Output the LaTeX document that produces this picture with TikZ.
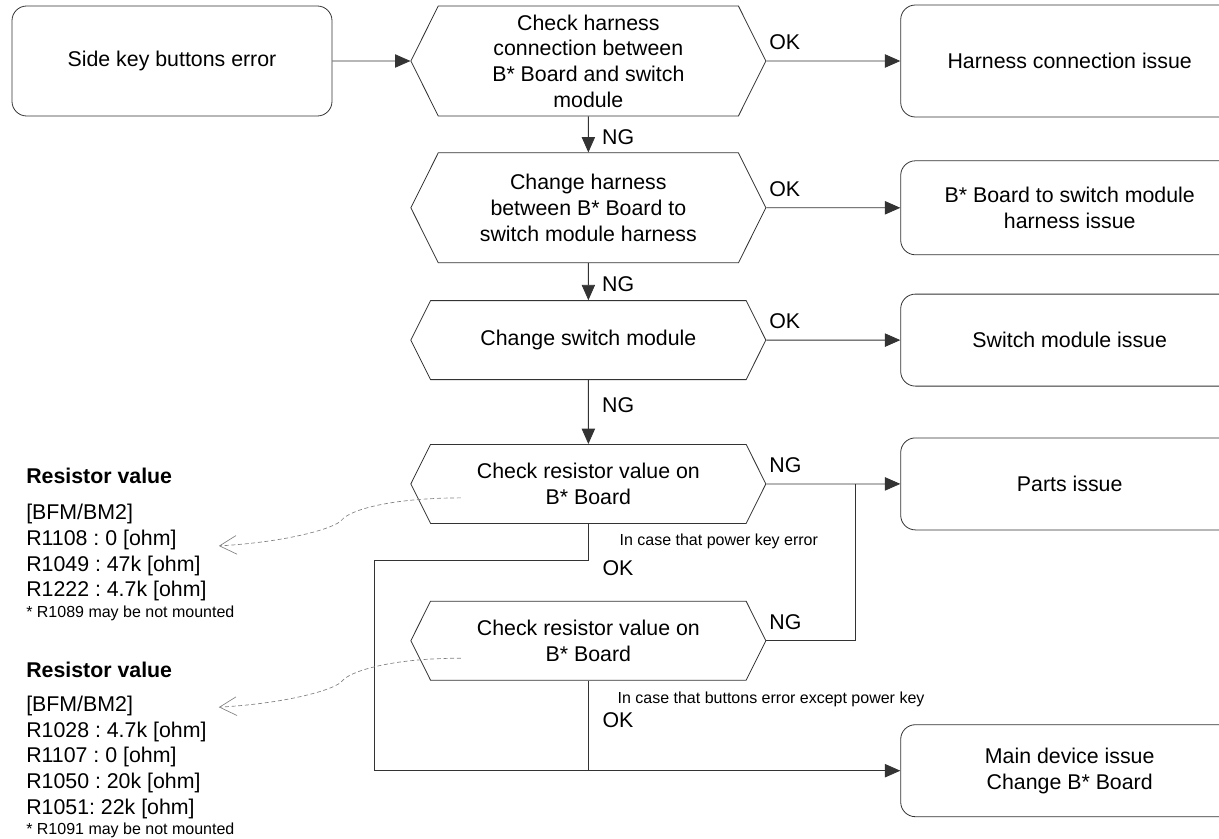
\documentclass[tikz,border=0pt]{standalone}
\usepackage{fontspec}
\setmainfont{Liberation Sans}
\usetikzlibrary{arrows.meta,positioning,calc,shapes.symbols}
\frenchspacing
\newcommand{\mainfs}{\fontsize{16}{19.3}\selectfont}
\newcommand{\smallfs}{\fontsize{12}{14}\selectfont}
\tikzset{
  endbox/.style  = {rounded corners=11pt, draw=black!80, line width=0.6pt, text=black,
                    align=center, inner sep=2pt, font=\mainfs, minimum width=253.5pt},
  testbox/.style = {shape=signal, signal to=west and east, signal pointer angle=127,
                    draw=black!80, line width=0.6pt, text=black, align=center,
                    inner sep=1pt, font=\mainfs, minimum width=266.25pt},
  flow/.style    = {-{Triangle[length=11.5pt, width=10pt]}, draw=black!80, line width=0.6pt},
  wire/.style    = {draw=black!80, line width=0.6pt},
  lbl/.style     = {font=\mainfs, inner sep=0pt},
  hint/.style    = {font=\smallfs, inner sep=0pt, anchor=west},
  lookup/.style  = {-{Straight Barb[length=12.75pt, width=14pt]}, draw=gray,
                    dash pattern=on 3pt off 2pt, line width=0.5pt},
}

\begin{document}
\begin{tikzpicture}[x=0.75pt, y=-0.75pt]
\useasboundingbox (0,0) rectangle (1219,838);

% middle column: checks
\node[endbox, minimum width=240pt, minimum height=82.5pt] (start) at (172,61) {Side key buttons error};
\node[testbox, minimum height=82.5pt, right=58.5pt of start] (chk1)
  {Check harness\\connection between\\B* Board and switch\\module};
\node[testbox, minimum height=82.5pt, below=27pt of chk1] (chk2)
  {Change harness\\between B* Board to\\switch module harness};
\node[testbox, minimum height=59.25pt, below=27.75pt of chk2] (chk3) {Change switch module};
\node[testbox, minimum height=59.25pt, below=48pt of chk3] (chk4) {Check resistor value on\\B* Board};
\node[testbox, minimum height=59.25pt, below=57.75pt of chk4] (chk5) {Check resistor value on\\B* Board};

% right column: results
\node[endbox, minimum height=84pt, right=100.5pt of chk1] (res1) {Harness connection issue};
\node[endbox, minimum height=70.5pt, right=100.5pt of chk2] (res2) {B* Board to switch module\\harness issue};
\node[endbox, minimum height=69pt, right=100.5pt of chk3] (res3) {Switch module issue};
\node[endbox, minimum height=69pt, right=100.5pt of chk4] (res4) {Parts issue};
\node[endbox, minimum height=69pt, below=145.5pt of res4] (res5) {Main device issue\\Change B* Board};

% left column: resistor tables
\node[align=left, font=\mainfs, inner sep=0pt, anchor=north west] (vals1) at (26,468)
  {\textbf{Resistor value}\\[7.6pt]{}[BFM/BM2]\\R1108 : 0 [ohm]\\R1049 : 47k [ohm]\\R1222 : 4.7k [ohm]\\[-4pt]{\smallfs * R1089 may be not mounted}};
\node[align=left, font=\mainfs, inner sep=0pt, anchor=north west] (vals2) at (26,662)
  {\textbf{Resistor value}\\[6pt]{}[BFM/BM2]\\R1028 : 4.7k [ohm]\\R1107 : 0 [ohm]\\R1050 : 20k [ohm]\\R1051: 22k [ohm]\\[-4pt]{\smallfs * R1091 may be not mounted}};

% connectors
\draw[flow] (start) -- (chk1);
\draw[flow] (chk1) -- node[lbl, pos=0, anchor=south west, xshift=2pt, yshift=8pt] (ok1) {OK} (res1);
\draw[flow] (chk2) -- node[lbl, pos=0, anchor=south west, xshift=2pt, yshift=8pt] (ok2) {OK} (res2);
\draw[flow] (chk3) -- node[lbl, pos=0, anchor=south west, xshift=2pt, yshift=8pt] (ok3) {OK} (res3);
\draw[flow] (chk4) -- node[lbl, pos=0, anchor=south west, xshift=2pt, yshift=8pt] (ng4) {NG} (res4);
\draw[flow] (chk1) -- node[lbl, anchor=west, xshift=10pt, yshift=-2pt] (ng1) {NG} (chk2);
\draw[flow] (chk2) -- node[lbl, anchor=west, xshift=10pt, yshift=-2pt] (ng2) {NG} (chk3);
\draw[flow] (chk3) -- node[lbl, pos=0.4, anchor=west, xshift=10pt] (ng3) {NG} (chk4);

\coordinate (jn) at ($(chk4.east)+(89,0)$);
\draw[wire] (chk5.east) -| node[lbl, pos=0, anchor=south west, xshift=2pt, yshift=8pt] (ng5) {NG} (jn);

\coordinate (k1) at ($(chk4.south)+(0,37)$);
\coordinate (k2) at ($(k1)+(-213.5,0)$);
\draw[flow] (chk4.south) -- (k1) -- (k2) |- (res5.west);
\draw[wire] (chk5.south) -- (chk5.south |- res5.west);

\node[hint] (case1) at ($(chk4.south)+(31,18)$) {In case that power key error};
\node[lbl, anchor=west] (ok4) at ($(chk4.south)+(14,44)$) {OK};
\node[hint] (case2) at ($(chk5.south)+(29,19)$) {In case that buttons error except power key};
\node[lbl, anchor=west] (ok5) at ($(chk5.south)+(14,40)$) {OK};

% dashed pointers to the tables
\coordinate (src1) at ($(chk4.center)+(-127.5,14)$);
\coordinate (bend1) at ($(chk4.center)+(-246.5,36)$);
\coordinate (tip1) at ($(chk4.center)+(-369.5,62)$);
\draw[lookup] (src1) .. controls +(-70,0) and +(8,-10) .. (bend1) .. controls +(-6,8) and +(70,-4) .. (tip1);
\coordinate (src2) at ($(chk5.center)+(-127.5,17.5)$);
\coordinate (bend2) at ($(chk5.center)+(-246.5,40.5)$);
\coordinate (tip2) at ($(chk5.center)+(-369.5,66.5)$);
\draw[lookup] (src2) .. controls +(-70,0) and +(8,-10) .. (bend2) .. controls +(-6,8) and +(70,-4) .. (tip2);
\end{tikzpicture}
\end{document}
